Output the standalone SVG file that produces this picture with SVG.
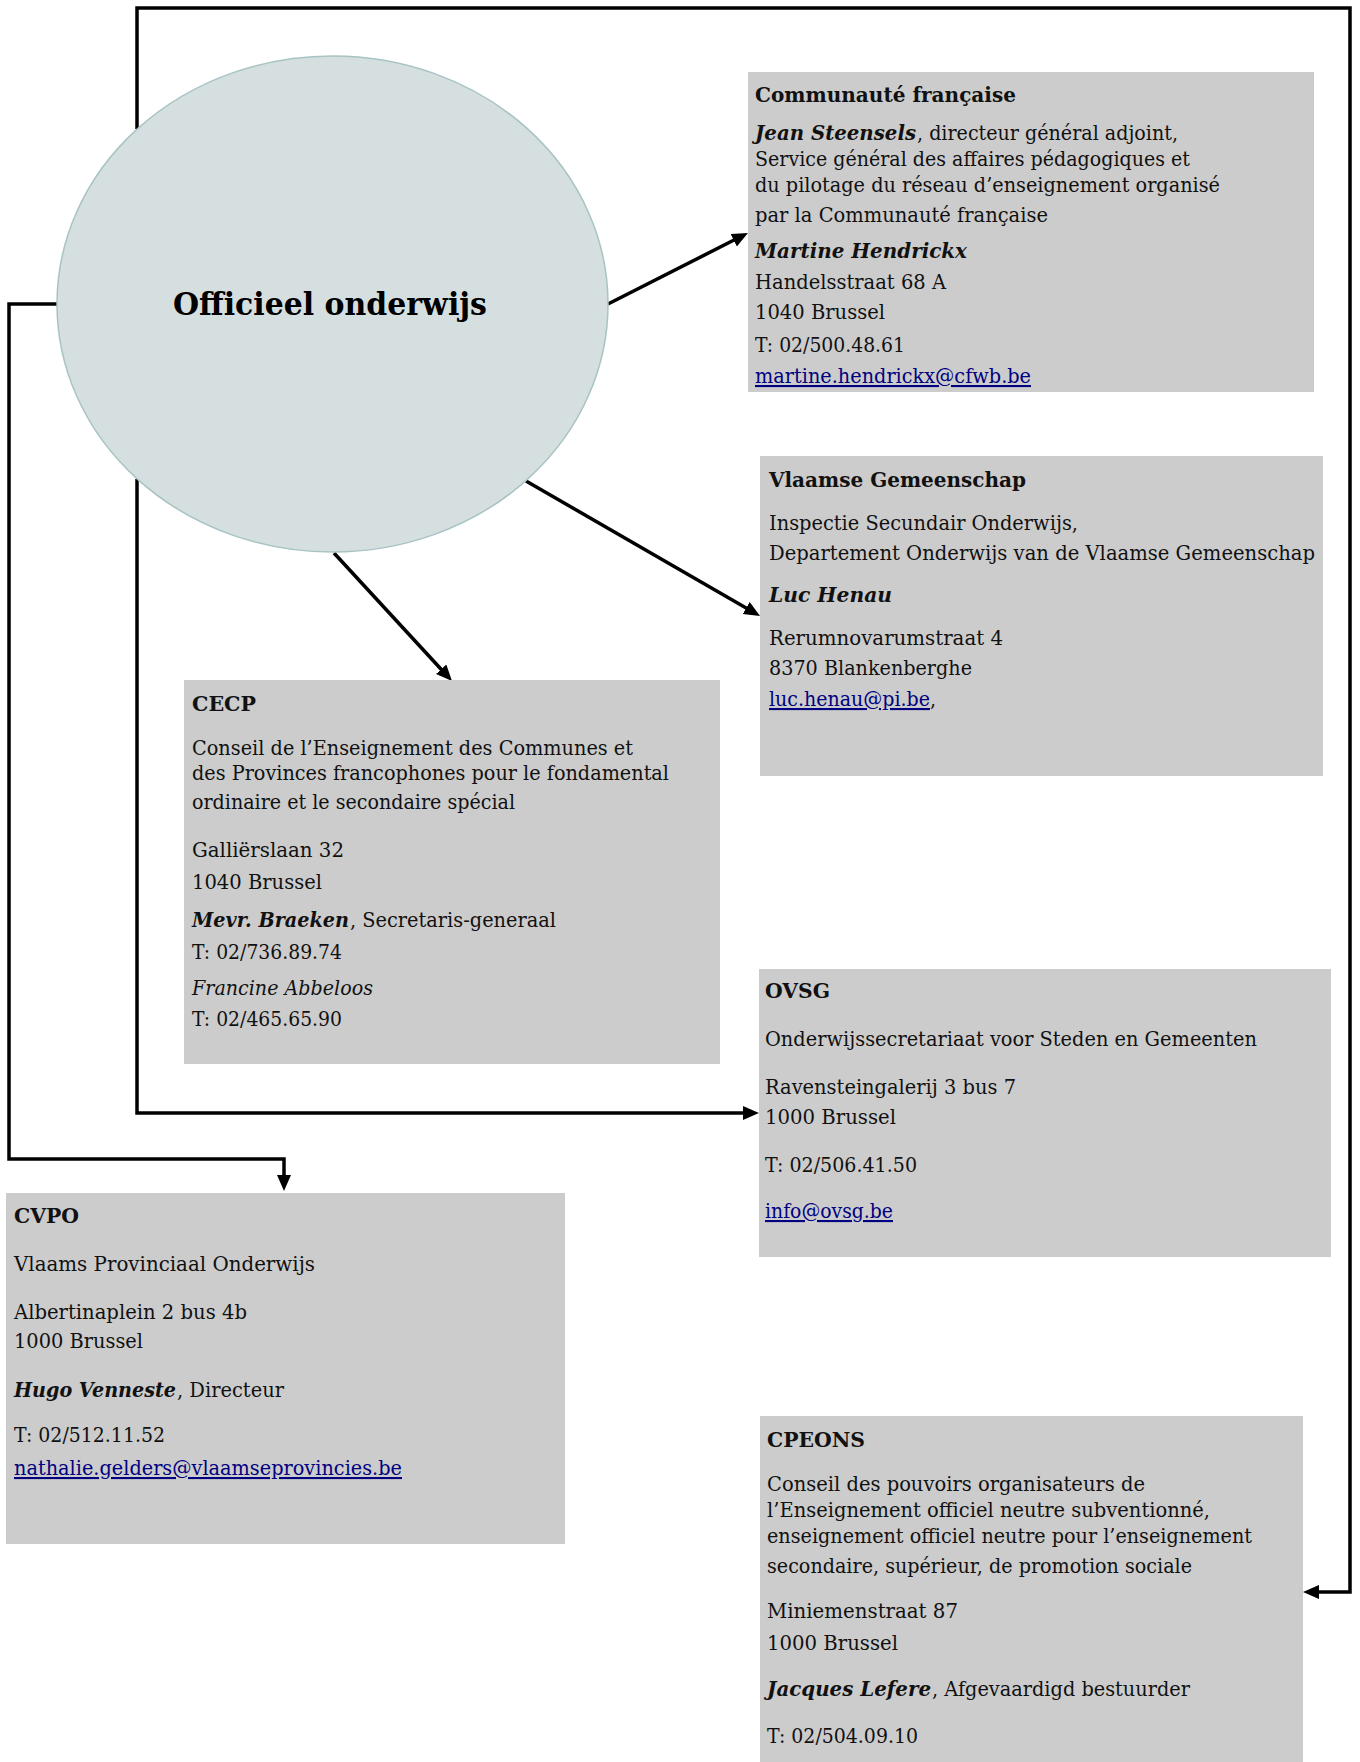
<svg xmlns="http://www.w3.org/2000/svg" width="1360" height="1762" viewBox="0 0 1360 1762">
<style>
.box{fill:#cccccc}
text{font-family:"DejaVu Serif","Liberation Serif",serif;font-size:21px;fill:#111}
.h{font-weight:bold}
.bi{font-weight:bold;font-style:italic}
.i{font-style:italic}
.lnk{fill:#000080;text-decoration:underline}
.title{font-weight:bold;font-size:31px;fill:#000}
.conn{fill:none;stroke:#000;stroke-width:3.5;stroke-linejoin:miter}
</style>
<defs>
<marker id="ah" markerUnits="userSpaceOnUse" markerWidth="18" markerHeight="15" refX="2" refY="7" orient="auto">
<path d="M0,0 L16,7 L0,14 z" fill="#000"/>
</marker>
</defs>
<rect width="1360" height="1762" fill="#fff"/>

<g id="connectors">
<path class="conn" d="M137,129 V8 H1350 V1592 H1317" marker-end="url(#ah)"/>
<path class="conn" d="M57,304 H9 V1159 H284 V1177" marker-end="url(#ah)"/>
<path class="conn" d="M137,479 V1113 H745" marker-end="url(#ah)"/>
<path class="conn" d="M608,304 L735.5,239.3" marker-end="url(#ah)"/>
<path class="conn" d="M526,481 L747.9,609" marker-end="url(#ah)"/>
<path class="conn" d="M334,553 L442.5,670.7" marker-end="url(#ah)"/>
</g>

<g id="officieel">
<ellipse cx="332.5" cy="304" rx="275.5" ry="248" fill="#d5dfe0" stroke="#a8c3c3" stroke-width="1.5"/>
<text class="title" x="330" y="315" text-anchor="middle" textLength="314" lengthAdjust="spacingAndGlyphs">Officieel onderwijs</text>
</g>

<g id="communaute">
<rect class="box" x="748" y="72" width="566" height="320"/>
<text class="h" x="755" y="102" textLength="261" lengthAdjust="spacingAndGlyphs">Communauté française</text>
<text class="bi" x="755" y="140" textLength="161" lengthAdjust="spacingAndGlyphs">Jean Steensels</text>
<text x="917" y="140" textLength="261" lengthAdjust="spacingAndGlyphs">, directeur général adjoint,</text>
<text x="755" y="166" textLength="435" lengthAdjust="spacingAndGlyphs">Service général des affaires pédagogiques et</text>
<text x="755" y="192" textLength="465" lengthAdjust="spacingAndGlyphs">du pilotage du réseau d’enseignement organisé</text>
<text x="755" y="222" textLength="293" lengthAdjust="spacingAndGlyphs">par la Communauté française</text>
<text class="bi" x="755" y="258" textLength="212" lengthAdjust="spacingAndGlyphs">Martine Hendrickx</text>
<text x="755" y="289" textLength="191" lengthAdjust="spacingAndGlyphs">Handelsstraat 68 A</text>
<text x="755" y="319" textLength="130" lengthAdjust="spacingAndGlyphs">1040 Brussel</text>
<text x="755" y="352" textLength="150" lengthAdjust="spacingAndGlyphs">T: 02/500.48.61</text>
<text class="lnk" x="755" y="383" textLength="276" lengthAdjust="spacingAndGlyphs">martine.hendrickx@cfwb.be</text>
</g>

<g id="vlaamse">
<rect class="box" x="760" y="456" width="563" height="320"/>
<text class="h" x="769" y="487" textLength="257" lengthAdjust="spacingAndGlyphs">Vlaamse Gemeenschap</text>
<text x="769" y="530" textLength="309" lengthAdjust="spacingAndGlyphs">Inspectie Secundair Onderwijs,</text>
<text x="769" y="560" textLength="546" lengthAdjust="spacingAndGlyphs">Departement Onderwijs van de Vlaamse Gemeenschap</text>
<text class="bi" x="769" y="602" textLength="123" lengthAdjust="spacingAndGlyphs">Luc Henau</text>
<text x="769" y="645" textLength="234" lengthAdjust="spacingAndGlyphs">Rerumnovarumstraat 4</text>
<text x="769" y="675" textLength="203" lengthAdjust="spacingAndGlyphs">8370 Blankenberghe</text>
<text x="769" y="706" textLength="167" lengthAdjust="spacingAndGlyphs"><tspan class="lnk">luc.henau@pi.be</tspan>,</text>
</g>

<g id="cecp">
<rect class="box" x="184" y="680" width="536" height="384"/>
<text class="h" x="192" y="711" textLength="64" lengthAdjust="spacingAndGlyphs">CECP</text>
<text x="192" y="755" textLength="441" lengthAdjust="spacingAndGlyphs">Conseil de l’Enseignement des Communes et</text>
<text x="192" y="780" textLength="477" lengthAdjust="spacingAndGlyphs">des Provinces francophones pour le fondamental</text>
<text x="192" y="809" textLength="323" lengthAdjust="spacingAndGlyphs">ordinaire et le secondaire spécial</text>
<text x="192" y="857" textLength="152" lengthAdjust="spacingAndGlyphs">Galliërslaan 32</text>
<text x="192" y="889" textLength="130" lengthAdjust="spacingAndGlyphs">1040 Brussel</text>
<text class="bi" x="192" y="927" textLength="157" lengthAdjust="spacingAndGlyphs">Mevr. Braeken</text>
<text x="350" y="927" textLength="206" lengthAdjust="spacingAndGlyphs">, Secretaris-generaal</text>
<text x="192" y="959" textLength="150" lengthAdjust="spacingAndGlyphs">T: 02/736.89.74</text>
<text class="i" x="192" y="995" textLength="181" lengthAdjust="spacingAndGlyphs">Francine Abbeloos</text>
<text x="192" y="1026" textLength="150" lengthAdjust="spacingAndGlyphs">T: 02/465.65.90</text>
</g>

<g id="ovsg">
<rect class="box" x="759" y="969" width="572" height="288"/>
<text class="h" x="765" y="998" textLength="65" lengthAdjust="spacingAndGlyphs">OVSG</text>
<text x="765" y="1046" textLength="492" lengthAdjust="spacingAndGlyphs">Onderwijssecretariaat voor Steden en Gemeenten</text>
<text x="765" y="1094" textLength="251" lengthAdjust="spacingAndGlyphs">Ravensteingalerij 3 bus 7</text>
<text x="765" y="1124" textLength="131" lengthAdjust="spacingAndGlyphs">1000 Brussel</text>
<text x="765" y="1172" textLength="152" lengthAdjust="spacingAndGlyphs">T: 02/506.41.50</text>
<text class="lnk" x="765" y="1218" textLength="128" lengthAdjust="spacingAndGlyphs">info@ovsg.be</text>
</g>

<g id="cvpo">
<rect class="box" x="6" y="1193" width="559" height="351"/>
<text class="h" x="14" y="1223" textLength="65" lengthAdjust="spacingAndGlyphs">CVPO</text>
<text x="14" y="1271" textLength="301" lengthAdjust="spacingAndGlyphs">Vlaams Provinciaal Onderwijs</text>
<text x="14" y="1319" textLength="233" lengthAdjust="spacingAndGlyphs">Albertinaplein 2 bus 4b</text>
<text x="14" y="1348" textLength="129" lengthAdjust="spacingAndGlyphs">1000 Brussel</text>
<text class="bi" x="14" y="1397" textLength="162" lengthAdjust="spacingAndGlyphs">Hugo Venneste</text>
<text x="177" y="1397" textLength="107" lengthAdjust="spacingAndGlyphs">, Directeur</text>
<text x="14" y="1442" textLength="151" lengthAdjust="spacingAndGlyphs">T: 02/512.11.52</text>
<text class="lnk" x="14" y="1475" textLength="388" lengthAdjust="spacingAndGlyphs">nathalie.gelders@vlaamseprovincies.be</text>
</g>

<g id="cpeons">
<rect class="box" x="760" y="1416" width="543" height="346"/>
<text class="h" x="767" y="1447" textLength="98" lengthAdjust="spacingAndGlyphs">CPEONS</text>
<text x="767" y="1491" textLength="378" lengthAdjust="spacingAndGlyphs">Conseil des pouvoirs organisateurs de</text>
<text x="767" y="1517" textLength="443" lengthAdjust="spacingAndGlyphs">l’Enseignement officiel neutre subventionné,</text>
<text x="767" y="1543" textLength="485" lengthAdjust="spacingAndGlyphs">enseignement officiel neutre pour l’enseignement</text>
<text x="767" y="1573" textLength="425" lengthAdjust="spacingAndGlyphs">secondaire, supérieur, de promotion sociale</text>
<text x="767" y="1618" textLength="191" lengthAdjust="spacingAndGlyphs">Miniemenstraat 87</text>
<text x="767" y="1650" textLength="131" lengthAdjust="spacingAndGlyphs">1000 Brussel</text>
<text class="bi" x="767" y="1696" textLength="164" lengthAdjust="spacingAndGlyphs">Jacques Lefere</text>
<text x="932" y="1696" textLength="258" lengthAdjust="spacingAndGlyphs">, Afgevaardigd bestuurder</text>
<text x="767" y="1743" textLength="151" lengthAdjust="spacingAndGlyphs">T: 02/504.09.10</text>
</g>
</svg>
